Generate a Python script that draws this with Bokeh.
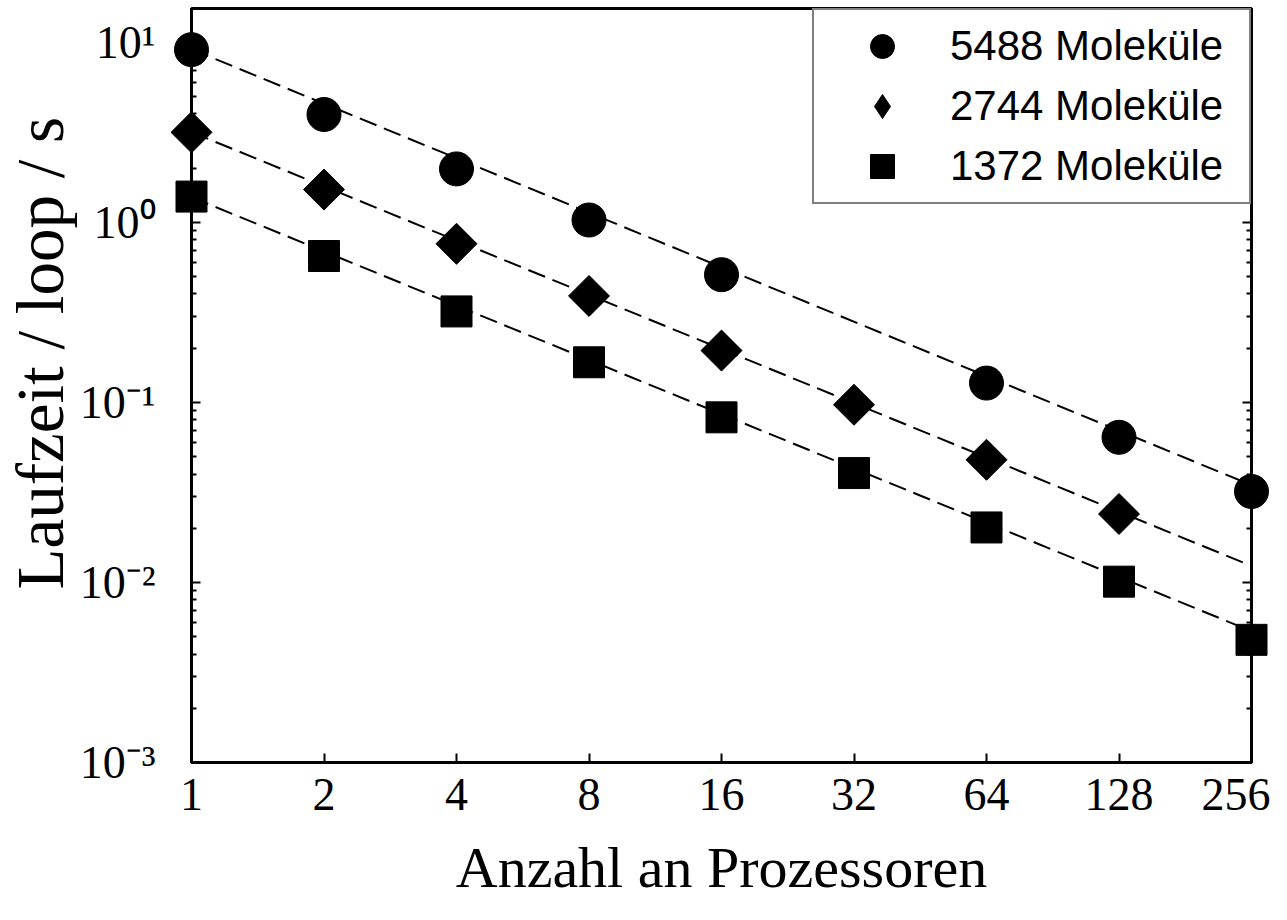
import numpy as np
from bokeh.plotting import figure
from bokeh.models import (LogAxis, FixedTicker, Range1d, Legend, LegendItem, Title)
from bokeh.embed import file_html
from bokeh.resources import INLINE

# ---- data ----
procs = [1, 2, 4, 8, 16, 32, 64, 128, 256]
x_tick_labels = ["1", "2", "4", "8", "16", "32", "64", "128", "256"]

x_5488 = [1, 2, 4, 8, 16, 64, 128, 256]
t_5488 = [9.1, 3.97, 1.98, 1.03, 0.512, 0.128, 0.064, 0.032]

x_2744 = [1, 2, 4, 8, 16, 32, 64, 128]
t_2744 = [3.16, 1.52, 0.76, 0.39, 0.194, 0.097, 0.048, 0.024]

x_1372 = [1, 2, 4, 8, 16, 32, 64, 128, 256]
t_1372 = [1.39, 0.65, 0.32, 0.167, 0.0826, 0.0405, 0.0202, 0.0101, 0.0048]

fit_x = [1, 256]
fit_5488 = [9.15, 0.0347]
fit_2744 = [3.17, 0.01235]
fit_1372 = [1.38, 0.00536]

y_ticks = [1e-3, 1e-2, 1e-1, 1.0, 10.0]
y_tick_labels = ["10\u207b\u00b3", "10\u207b\u00b2", "10\u207b\u00b9", "10\u2070", "10\u00b9"]
y_minor = [k * 10.0 ** e for e in range(-3, 2) for k in range(2, 10)]

legend_labels = ["5488 Moleküle", "2744 Moleküle", "1372 Moleküle"]

SERIF = "Liberation Serif"
SANS = "Liberation Sans"

p = figure(width=1270, height=904, x_axis_type="log", y_axis_type="log",
           x_range=Range1d(1, 256), y_range=Range1d(1e-3, 15.4),
           output_backend="svg", toolbar_location=None,
           min_border_left=185, min_border_right=19,
           min_border_top=8, min_border_bottom=142)

p.grid.visible = False
p.outline_line_color = "black"
p.outline_line_width = 3
p.background_fill_color = "white"
p.border_fill_color = "white"


def style_axis(ax):
    ax.axis_line_color = "black"
    ax.axis_line_width = 3
    ax.major_tick_line_color = "black"
    ax.minor_tick_line_color = "black"
    ax.major_tick_line_width = 2
    ax.minor_tick_line_width = 2
    ax.major_tick_in = 9
    ax.major_tick_out = 0
    ax.minor_tick_in = 5
    ax.minor_tick_out = 0
    ax.major_label_text_color = "black"
    ax.axis_label_text_color = "black"


# x axis
xa = p.xaxis[0]
style_axis(xa)
xa.ticker = FixedTicker(ticks=procs, minor_ticks=[])
xa.major_label_overrides = {float(v): s for v, s in zip(procs, x_tick_labels)}
xa.major_label_text_font = SERIF
xa.major_label_text_font_size = "46px"
xa.major_label_standoff = 16
xa.axis_label = "Anzahl an Prozessoren"
xa.axis_label_text_font = SERIF
xa.axis_label_text_font_size = "58px"
xa.axis_label_text_font_style = "normal"
xa.axis_label_standoff = 22

# y axis
ya = p.yaxis[0]
style_axis(ya)
ya.ticker = FixedTicker(ticks=y_ticks, minor_ticks=y_minor)
ya.major_label_overrides = {float(v): s for v, s in zip(y_ticks, y_tick_labels)}
ya.major_label_text_font = SERIF
ya.major_label_text_font_size = "46px"
ya.major_label_standoff = 36

# right axis (ticks only)
ra = LogAxis(ticker=FixedTicker(ticks=y_ticks, minor_ticks=y_minor))
style_axis(ra)
ra.major_label_overrides = {float(v): " " for v in y_ticks}
ra.major_label_text_font_size = "1px"
ra.major_label_standoff = 0
ra.axis_label_standoff = 0
p.add_layout(ra, "right")

# y title (starts from the lower part of the frame, like the reference)
yt = Title(text="Laufzeit / loop / s", align="left", offset=173,
           text_font=SERIF, text_font_size="67px", text_font_style="normal",
           standoff=0, text_color="black")
p.add_layout(yt, "left")

# fit lines
for fy in (fit_5488, fit_2744, fit_1372):
    p.line(fit_x, fy, line_color="black", line_width=2, line_dash="18 8")

# legend key for the diamond series (legend glyphs are never rotated): a tiny
# point hidden beneath the first real diamond marker
r2_key = p.scatter(x_2744[:1], t_2744[:1], marker="diamond", size=2, color="black")

# markers (drawn above the frame edge, not clipped, as in the reference)
r1 = p.scatter(x_5488, t_5488, marker="circle", size=34, color="black", level="annotation")
r2 = p.scatter(x_2744, t_2744, marker="square", angle=np.pi / 4, size=29, color="black",
               level="annotation")
r3 = p.scatter(x_1372, t_1372, marker="square", size=31, color="black", level="annotation")

legend = Legend(items=[LegendItem(label=legend_labels[0], renderers=[r1]),
                       LegendItem(label=legend_labels[1], renderers=[r2_key]),
                       LegendItem(label=legend_labels[2], renderers=[r3])],
                location="top_right", glyph_width=124, glyph_height=60,
                spacing=0, padding=6, margin=0, label_standoff=6,
                label_width=293, label_height=60, label_text_font=SANS,
                label_text_font_size="42px", label_text_color="black",
                border_line_color="black", border_line_width=2,
                background_fill_color="white", background_fill_alpha=1.0)
p.add_layout(legend)

open("out.html", "w").write(file_html(p, INLINE))
